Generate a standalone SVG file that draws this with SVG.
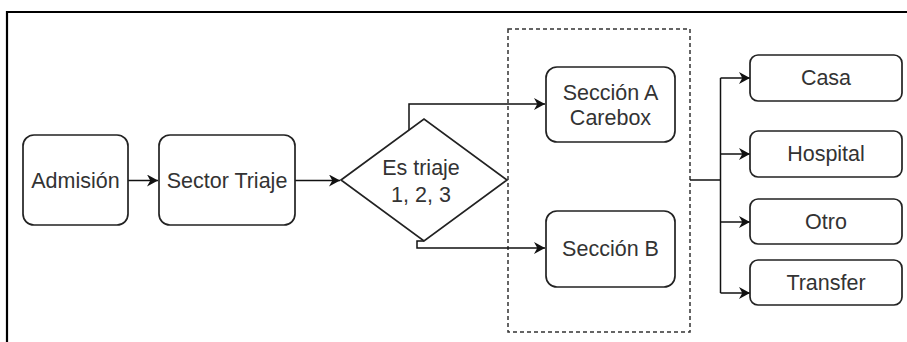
<svg xmlns="http://www.w3.org/2000/svg" width="907" height="342" viewBox="0 0 907 342">
  <style>
    .box { fill: #ffffff; stroke: #222222; stroke-width: 1.7; }
    .lbl { font-family: "Liberation Sans", Arial, sans-serif; font-size: 21.5px; fill: #333333; text-anchor: middle; dominant-baseline: central; }
    .wire { fill: none; stroke: #111111; stroke-width: 1.5; }
    .arrow { fill: none; stroke: #111111; stroke-width: 1.5; marker-end: url(#head); }
    .group { fill: none; stroke: #333333; stroke-width: 1.5; stroke-dasharray: 4 3; }
  </style>
  <defs>
    <marker id="head" viewBox="0 0 10 10" refX="10" refY="5" markerWidth="11" markerHeight="12" markerUnits="userSpaceOnUse" orient="auto" preserveAspectRatio="none">
      <path d="M0,0 L10,5 L0,10 L3,5 z" fill="#111111"/>
    </marker>
  </defs>

  <rect width="907" height="342" fill="#ffffff"/>
  <!-- page frame -->
  <path d="M7,342 V12 H907" fill="none" stroke="#000000" stroke-width="2.2"/>

  <!-- dashed group around the sections -->
  <rect id="secciones" class="group" x="508" y="29" width="182" height="303"/>

  <g id="connectors">
    <path class="arrow" d="M128,180.5 H158"/>
    <path class="arrow" d="M295,180.5 H340"/>
    <path class="arrow" d="M409,130 V104 H545"/>
    <path class="arrow" d="M424,241 H417 V248 H545"/>
    <path class="wire" d="M690,180 H720.5"/>
    <path class="wire" d="M720.5,78 V293"/>
    <path class="arrow" d="M720.5,78 H750"/>
    <path class="arrow" d="M720.5,154 H750"/>
    <path class="arrow" d="M720.5,222 H750"/>
    <path class="arrow" d="M720.5,293 H750"/>
  </g>

  <g id="admision">
    <rect class="box" x="23" y="135" width="105" height="90" rx="11"/>
    <text class="lbl" x="75.5" y="181">Admisión</text>
  </g>

  <g id="sector-triaje">
    <rect class="box" x="159" y="135" width="136" height="90" rx="11"/>
    <text class="lbl" x="227" y="181">Sector Triaje</text>
  </g>

  <g id="es-triaje">
    <polygon class="box" points="341,180 424,119 507,180 424,241"/>
    <text class="lbl" x="421" y="168">Es triaje</text>
    <text class="lbl" x="421" y="195">1, 2, 3</text>
  </g>

  <g id="seccion-a">
    <rect class="box" x="546" y="67" width="129" height="75" rx="11"/>
    <text class="lbl" x="610.5" y="93">Sección A</text>
    <text class="lbl" x="610.5" y="118">Carebox</text>
  </g>

  <g id="seccion-b">
    <rect class="box" x="546" y="211" width="129" height="76" rx="11"/>
    <text class="lbl" x="610.5" y="249">Sección B</text>
  </g>

  <g id="casa">
    <rect class="box" x="750" y="55" width="152" height="46" rx="8"/>
    <text class="lbl" x="826" y="78">Casa</text>
  </g>

  <g id="hospital">
    <rect class="box" x="750" y="131" width="152" height="46" rx="8"/>
    <text class="lbl" x="826" y="154">Hospital</text>
  </g>

  <g id="otro">
    <rect class="box" x="750" y="199" width="152" height="45" rx="8"/>
    <text class="lbl" x="826" y="221.5">Otro</text>
  </g>

  <g id="transfer">
    <rect class="box" x="750" y="260" width="152" height="45" rx="8"/>
    <text class="lbl" x="826" y="282.5">Transfer</text>
  </g>
</svg>
